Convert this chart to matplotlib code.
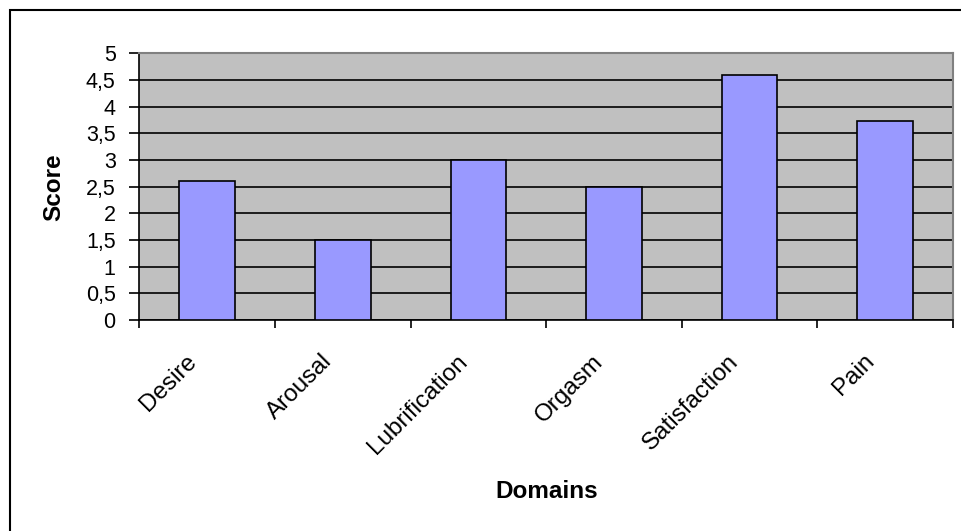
import numpy as np
import matplotlib.pyplot as plt
from matplotlib.patches import Rectangle
from matplotlib.ticker import FuncFormatter

plt.rcParams['font.family'] = ['Liberation Sans', 'DejaVu Sans']

# --- data ---
domains = ["Desire", "Arousal", "Lubrification", "Orgasm", "Satisfaction", "Pain"]
scores = [2.6, 1.5, 3.0, 2.5, 4.6, 3.74]
y_ticks = np.arange(0, 5.01, 0.5)

W, H = 962, 531
fig = plt.figure(figsize=(W / 100, H / 100), dpi=100)

# outer chart border (right/bottom run off the image)
fig.patches.append(Rectangle((10 / W, -0.1), 1.2, (H - 10) / H + 0.1,
                             transform=fig.transFigure, fill=False,
                             edgecolor='black', linewidth=1.5))

left, right, top, bottom = 139.3, 953, 53.3, 320
ax = fig.add_axes([left / W, 1 - bottom / H, (right - left) / W, (bottom - top) / H])
ax.set_facecolor('#C0C0C0')

x = np.arange(len(domains))
ax.bar(x, scores, width=0.41, color='#9999FF', edgecolor='black', linewidth=1.2, zorder=3)

ax.set_xlim(-0.5, len(domains) - 0.5)
ax.set_ylim(0, 5)
ax.set_yticks(y_ticks)
ax.yaxis.set_major_formatter(FuncFormatter(lambda v, p: f"{v:g}".replace('.', ',')))
ax.yaxis.grid(True, color='black', linewidth=1.2, zorder=1)
ax.set_axisbelow(True)

# ticks between categories
ax.set_xticks(np.arange(-0.5, len(domains), 1.0))
ax.set_xticklabels([])
ax.tick_params(axis='x', direction='out', length=6, width=1.2)
ax.tick_params(axis='y', direction='out', length=7, width=1.2, labelsize=15.5, pad=10)

for i, d in enumerate(domains):
    ax.annotate(d, xy=(i, 0), xycoords=('data', 'axes fraction'),
                xytext=(-14, -38), textcoords='offset pixels',
                rotation=45, ha='right', va='center', rotation_mode='anchor',
                fontsize=17.5)

for s in ['left', 'bottom']:
    ax.spines[s].set_color('black')
    ax.spines[s].set_linewidth(1.2)
for s in ['top', 'right']:
    ax.spines[s].set_color('#808080')
    ax.spines[s].set_linewidth(1.5)

fig.text(54 / W, 1 - 187 / H, "Score", rotation=90, ha='center', va='center',
         fontsize=17.5, fontweight='bold')
fig.text(547 / W, 1 - 491 / H, "Domains", ha='center', va='center',
         fontsize=17.5, fontweight='bold')

fig.savefig('out.png', dpi=100)
